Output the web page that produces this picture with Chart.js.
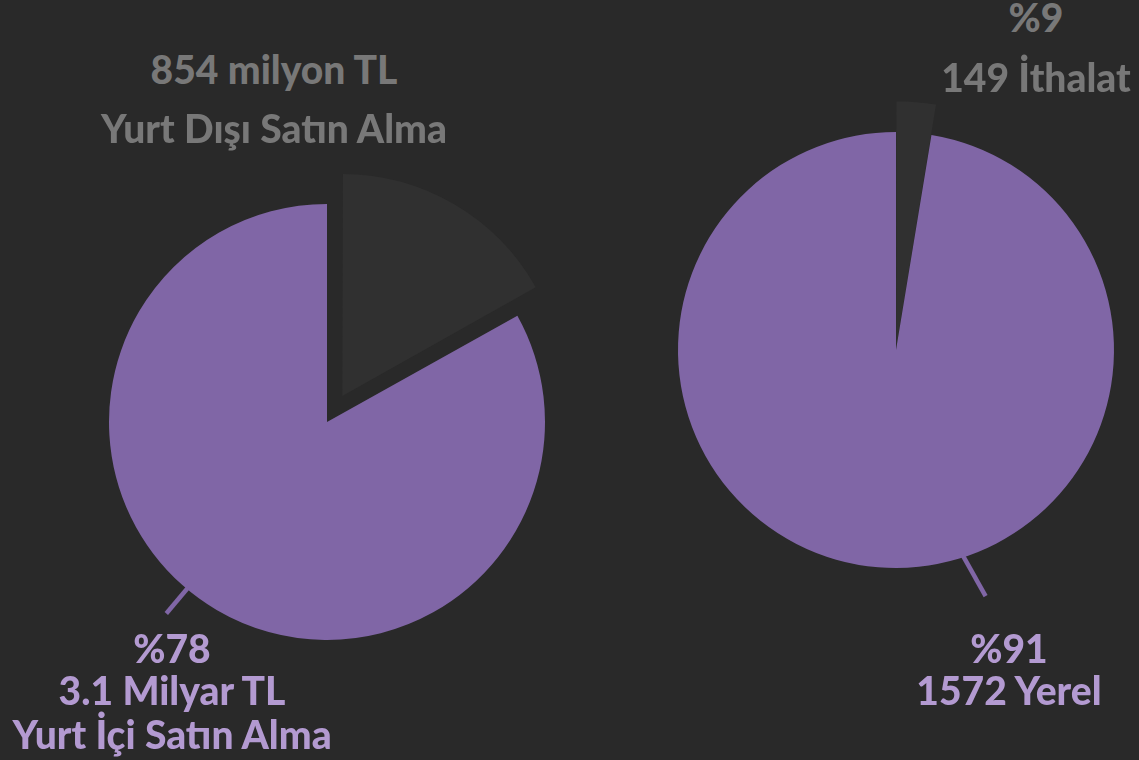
<!DOCTYPE html>
<html>
<head>
<meta charset="utf-8">
<script src="https://cdn.jsdelivr.net/npm/chart.js@4"></script>
<style>
  html, body { margin: 0; padding: 0; background: #292929; overflow: hidden; }
  body { width: 1139px; height: 760px; position: relative; font-family: Lato, sans-serif; font-weight: 900; }
  canvas { position: absolute; }
  .lbl { position: absolute; transform: translate(-50%, -50%); white-space: nowrap; font-size: 39px; line-height: 1; }
  .gray { color: #787878; }
  .purple { color: #b39ad1; }
</style>
</head>
<body>
<canvas id="left" width="560" height="560" style="left:47px;top:142px"></canvas>
<canvas id="right" width="560" height="560" style="left:616px;top:70px"></canvas>

<script>
// slices start at 12 o'clock, clockwise: first = dark, second = purple
var labelsLeft = ['Yurt Dışı Satın Alma', 'Yurt İçi Satın Alma'];
var valuesLeft = [16.9, 83.1];
var labelsRight = ['İthalat', 'Yerel'];
var valuesRight = [2.6, 97.4];

var textLeft = [['854 milyon TL', 'Yurt Dışı Satın Alma'], ['%78', '3.1 Milyar TL', 'Yurt İçi Satın Alma']];
var textRight = [['%9', '149 İthalat'], ['%91', '1572 Yerel']];

var purple = '#8066a6';
var dark = '#303030';

// stretch or leader lines, done after layout
var piePlugin = {
  id: 'pieExtras',
  afterDatasetsUpdate: function(chart) {
    var grow = chart.options.plugins.pieExtras.grow || [];
    chart.getDatasetMeta(0).data.forEach(function(arc, i) {
      if (grow[i]) arc.outerRadius += grow[i];
    });
  },
  afterDatasetsDraw: function(chart) {
    var opts = chart.options.plugins.pieExtras;
    var arc = chart.getDatasetMeta(0).data[1];
    var ctx = chart.ctx;
    var r = arc.outerRadius;
    var a1 = opts.leader[0] * Math.PI / 180, a2 = opts.leader[1] * Math.PI / 180;
    ctx.save();
    ctx.strokeStyle = purple;
    ctx.lineWidth = 4.5;
    ctx.beginPath();
    ctx.moveTo(arc.x + Math.sin(a1) * (r - 2), arc.y - Math.cos(a1) * (r - 2));
    ctx.lineTo(arc.x + Math.sin(a2) * (r + opts.leader[2]), arc.y - Math.cos(a2) * (r + opts.leader[2]));
    ctx.stroke();
    ctx.restore();
  }
};

function makePie(id, labels, values, offsets, grow, leader) {
  return new Chart(document.getElementById(id), {
    type: 'pie',
    data: {
      labels: labels,
      datasets: [{
        data: values,
        backgroundColor: [dark, purple],
        borderWidth: 0,
        offset: offsets
      }]
    },
    options: {
      responsive: false,
      animation: false,
      radius: 218,
      events: [],
      plugins: {
        legend: { display: false },
        tooltip: { enabled: false },
        pieExtras: { grow: grow, leader: leader }
      }
    },
    plugins: [piePlugin]
  });
}

// chart.js moves an arc by about offset/4, so 121 -> ~34px
makePie('left', labelsLeft, valuesLeft, [121, 0], [0, 0], [220, 220, 32]);
makePie('right', labelsRight, valuesRight, [8, 0], [27, 0], [162, 160, 44]);

// text labels
function addText(lines, cls, x, ys) {
  lines.forEach(function(t, i) {
    var d = document.createElement('div');
    d.className = 'lbl ' + cls;
    d.textContent = t;
    d.style.left = x + 'px';
    d.style.top = ys[i] + 'px';
    document.body.appendChild(d);
  });
}
addText(textLeft[0], 'gray', 274, [69, 128]);
addText(textLeft[1], 'purple', 172, [648, 690, 734]);
addText(textRight[0], 'gray', 1036, [17, 77]);
addText(textRight[1], 'purple', 1009, [648, 690]);
</script>
</body>
</html>
